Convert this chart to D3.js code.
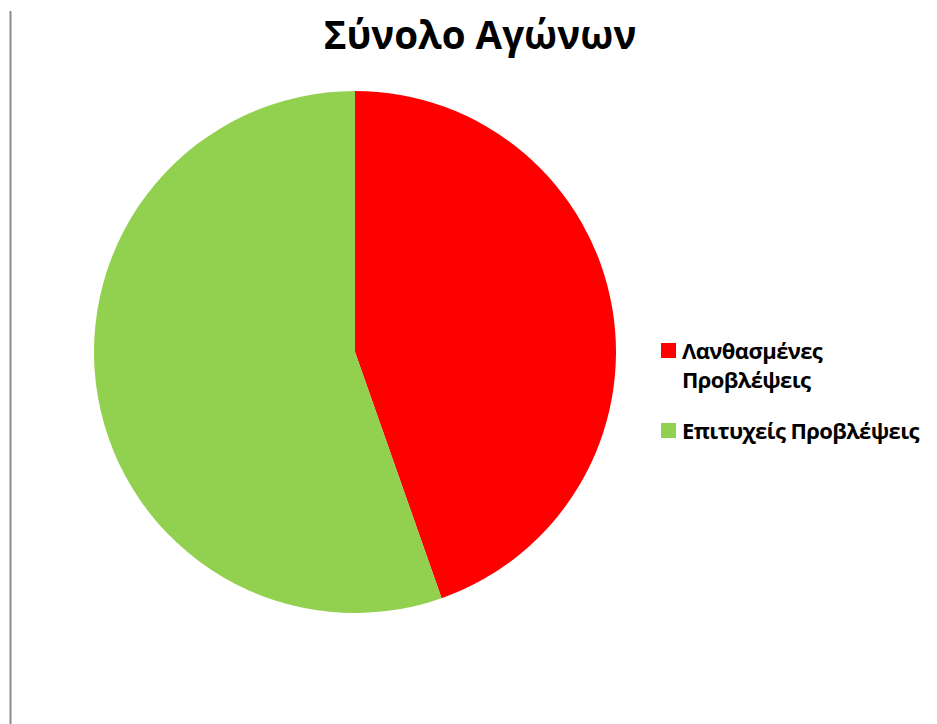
<!DOCTYPE html>
<html><head><meta charset="utf-8">
<script src="https://cdn.jsdelivr.net/npm/d3@7"></script>
<style>html,body{margin:0;padding:0;background:#fff;}svg{display:block;}</style>
</head><body>
<svg id="chart" width="937" height="724"></svg>
<script>
const categories = ["Λανθασμένες Προβλέψεις", "Επιτυχείς Προβλέψεις"];
const legendLines = [["Λανθασμένες", "Προβλέψεις"], ["Επιτυχείς Προβλέψεις"]];
const values = [29, 36];
const colors = ["#ff0000", "#92d050"];
const title = "Σύνολο Αγώνων";

const svg = d3.select("#chart");
const font = "'Open Sans', 'DejaVu Sans', sans-serif";

svg.append("line").attr("x1", 10.5).attr("x2", 10.5).attr("y1", 11).attr("y2", 724)
  .attr("stroke", "#8c8c8c").attr("stroke-width", 2);

svg.append("text").attr("x", 480).attr("y", 49).attr("text-anchor", "middle")
  .attr("font-family", font).attr("font-weight", "bold").attr("font-size", 38.5)
  .attr("fill", "#000").text(title);

const cx = 355, cy = 352, r = 261;
const pie = d3.pie().sort(null).value(d => d);
const arc = d3.arc().innerRadius(0).outerRadius(r);
svg.append("g").attr("transform", `translate(${cx},${cy})`)
  .selectAll("path").data(pie(values)).join("path")
  .attr("d", arc).attr("fill", (d, i) => colors[i]);

const legY = [343, 423];
const lg = svg.append("g");
categories.forEach((c, i) => {
  lg.append("rect").attr("x", 661).attr("y", legY[i]).attr("width", 15).attr("height", 15).attr("fill", colors[i]);
  const t = lg.append("text").attr("x", 682).attr("y", legY[i] + 16)
    .attr("font-family", font).attr("font-weight", "bold").attr("font-size", 22)
    .attr("letter-spacing", -0.6).attr("fill", "#000");
  legendLines[i].forEach((ln, j) => {
    t.append("tspan").attr("x", 682).attr("dy", j === 0 ? 0 : 29).text(ln);
  });
});
</script>
</body></html>
